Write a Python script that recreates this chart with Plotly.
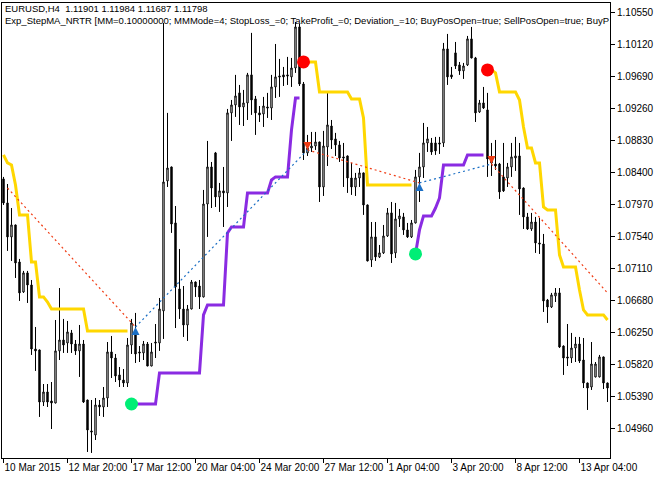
import plotly.graph_objects as go

# ---------------- data ----------------
tick_bars = [0, 16, 32, 48, 64, 80, 96, 112, 128, 144]
tick_labels = ["10 Mar 2015", "12 Mar 20:00", "17 Mar 12:00", "20 Mar 04:00", "24 Mar 20:00",
               "27 Mar 12:00", "1 Apr 04:00", "3 Apr 20:00", "8 Apr 12:00", "13 Apr 04:00"]
price_ticks = [1.10550, 1.10120, 1.09690, 1.09260, 1.08830, 1.08400, 1.07970,
               1.07540, 1.07110, 1.06680, 1.06250, 1.05820, 1.05390, 1.04960]

open_ = [1.08314, 1.07991, 1.07534, 1.07695, 1.07197, 1.06794, 1.07050, 1.06888, 1.06027, 1.06014,
         1.05314, 1.05449, 1.05328, 1.05301, 1.06001, 1.06148, 1.06108, 1.06243, 1.06094, 1.06001,
         1.06094, 1.05341, 1.04925, 1.04871, 1.05274, 1.05247, 1.05368, 1.05987, 1.05906, 1.05678,
         1.05610, 1.05570, 1.06081, 1.06256, 1.05987, 1.05974, 1.06094, 1.05798, 1.06121, 1.06108,
         1.06539, 1.08287, 1.08475, 1.07722, 1.06834, 1.06565, 1.06350, 1.06565, 1.06928, 1.06874,
         1.06727, 1.07977, 1.08475, 1.08664, 1.08072, 1.08153, 1.08126, 1.09202, 1.09309, 1.09471,
         1.09282, 1.09336, 1.09713, 1.09390, 1.09202, 1.09188, 1.09282, 1.09268, 1.09551, 1.09699,
         1.09713, 1.09713, 1.09686, 1.09806, 1.10358, 1.09591, 1.08664, 1.08730, 1.08757, 1.08811,
         1.08206, 1.08744, 1.09026, 1.08852, 1.08771, 1.08610, 1.08623, 1.08327, 1.08206, 1.08327,
         1.08395, 1.07964, 1.07224, 1.07534, 1.07265, 1.07319, 1.07547, 1.07857, 1.07319, 1.07776,
         1.07803, 1.07628, 1.07534, 1.07722, 1.08341, 1.08475, 1.08798, 1.08798, 1.08798, 1.08798,
         1.08798, 1.10062, 1.09713, 1.10009, 1.09847, 1.09767, 1.09847, 1.10197, 1.09941, 1.09215,
         1.09336, 1.09242, 1.08596, 1.08515, 1.08515, 1.08341, 1.08327, 1.08475, 1.08596, 1.08623,
         1.08192, 1.07803, 1.07641, 1.07735, 1.07453, 1.07439, 1.06686, 1.06592, 1.06740, 1.06781,
         1.06067, 1.05920, 1.05906, 1.06040, 1.06094, 1.05879, 1.05570, 1.05516, 1.05651, 1.05651,
         1.05920, 1.05570]

high = [1.08341, 1.08246, 1.07923, 1.07700, 1.07238, 1.07077, 1.07077, 1.06955, 1.06323, 1.06020,
        1.05556, 1.05556, 1.05583, 1.06417, 1.06847, 1.06431, 1.06404, 1.06283, 1.06148, 1.06350,
        1.06148, 1.05345, 1.05341, 1.05368, 1.05341, 1.05516, 1.06121, 1.06202, 1.05960, 1.05785,
        1.05758, 1.06175, 1.06431, 1.06512, 1.06067, 1.06135, 1.06121, 1.06108, 1.06363, 1.06713,
        1.10412, 1.09202, 1.08480, 1.07950, 1.07372, 1.06874, 1.06619, 1.06955, 1.06935, 1.06955,
        1.08166, 1.08825, 1.08542, 1.08677, 1.08260, 1.08475, 1.09255, 1.09376, 1.09713, 1.09578,
        1.09511, 1.09740, 1.10278, 1.09430, 1.09295, 1.09417, 1.09471, 1.09713, 1.10129, 1.09928,
        1.09820, 1.09955, 1.09941, 1.10425, 1.10398, 1.09618, 1.08906, 1.08946, 1.08946, 1.08815,
        1.08960, 1.09471, 1.09107, 1.08933, 1.08825, 1.08798, 1.08630, 1.08529, 1.08395, 1.08461,
        1.08400, 1.07970, 1.07735, 1.07735, 1.07426, 1.07695, 1.07923, 1.08004, 1.07991, 1.07910,
        1.07857, 1.07722, 1.07762, 1.08435, 1.08664, 1.09067, 1.09013, 1.08865, 1.08879, 1.08879,
        1.10143, 1.10264, 1.09820, 1.10156, 1.09887, 1.09874, 1.10237, 1.10358, 1.09955, 1.09376,
        1.09551, 1.09471, 1.08798, 1.08838, 1.08529, 1.08798, 1.08529, 1.08798, 1.08879, 1.08798,
        1.08200, 1.07857, 1.07857, 1.07803, 1.07789, 1.07574, 1.06700, 1.06781, 1.06847, 1.06847,
        1.06075, 1.06363, 1.06243, 1.06189, 1.06189, 1.06175, 1.05575, 1.06121, 1.05852, 1.05947,
        1.05925, 1.05575]

low = [1.07964, 1.07346, 1.07211, 1.06982, 1.06673, 1.06781, 1.06646, 1.05947, 1.05732, 1.05113,
       1.05260, 1.05247, 1.04951, 1.05295, 1.05879, 1.05974, 1.05974, 1.05974, 1.05947, 1.05651,
       1.05301, 1.04642, 1.04629, 1.04803, 1.05126, 1.05113, 1.05247, 1.05637, 1.05583, 1.05516,
       1.05516, 1.05516, 1.05960, 1.05839, 1.05852, 1.05879, 1.05795, 1.05795, 1.05906, 1.06001,
       1.06162, 1.08206, 1.07588, 1.06309, 1.06431, 1.06189, 1.06135, 1.06560, 1.06727, 1.06565,
       1.06720, 1.07534, 1.07923, 1.07937, 1.07870, 1.07668, 1.07937, 1.08825, 1.09148, 1.09040,
       1.09026, 1.09107, 1.09175, 1.08906, 1.09080, 1.09013, 1.09134, 1.09107, 1.09403, 1.09417,
       1.09564, 1.09578, 1.09551, 1.09740, 1.09564, 1.08569, 1.08623, 1.08677, 1.08704, 1.08004,
       1.08085, 1.08488, 1.08717, 1.08623, 1.08542, 1.08206, 1.08126, 1.08099, 1.08085, 1.08206,
       1.07830, 1.07205, 1.07130, 1.07211, 1.07251, 1.07305, 1.07534, 1.07184, 1.07251, 1.07668,
       1.07561, 1.07520, 1.07520, 1.07715, 1.08004, 1.08327, 1.08677, 1.08637, 1.08637, 1.08650,
       1.08744, 1.09578, 1.09659, 1.09793, 1.09713, 1.09659, 1.09833, 1.09935, 1.09080, 1.09202,
       1.09255, 1.08341, 1.08354, 1.08435, 1.08045, 1.08139, 1.08206, 1.08341, 1.08422, 1.07830,
       1.07641, 1.07628, 1.07615, 1.07319, 1.07305, 1.06525, 1.06377, 1.06578, 1.06659, 1.06040,
       1.05678, 1.05798, 1.05839, 1.05852, 1.05839, 1.05502, 1.05207, 1.05476, 1.05645, 1.05645,
       1.05489, 1.05314]

close = [1.07991, 1.07534, 1.07695, 1.07184, 1.06781, 1.07050, 1.06888, 1.06027, 1.06001, 1.05314,
         1.05449, 1.05314, 1.05301, 1.06001, 1.06148, 1.06081, 1.06256, 1.06094, 1.06001, 1.06094,
         1.05314, 1.04938, 1.04911, 1.05274, 1.05247, 1.05368, 1.05987, 1.05906, 1.05664, 1.05610,
         1.05570, 1.06081, 1.06377, 1.05960, 1.05974, 1.06094, 1.05798, 1.05987, 1.06108, 1.06565,
         1.08273, 1.08461, 1.07708, 1.06861, 1.06565, 1.06350, 1.06565, 1.06928, 1.06861, 1.06727,
         1.07977, 1.08475, 1.08192, 1.08072, 1.08153, 1.08126, 1.09202, 1.09309, 1.09430, 1.09282,
         1.09336, 1.09713, 1.09376, 1.09202, 1.09175, 1.09295, 1.09268, 1.09551, 1.09686, 1.09686,
         1.09686, 1.09699, 1.09806, 1.10358, 1.09591, 1.08664, 1.08730, 1.08757, 1.08811, 1.08206,
         1.08757, 1.09040, 1.08838, 1.08771, 1.08596, 1.08596, 1.08327, 1.08206, 1.08327, 1.08395,
         1.07964, 1.07211, 1.07534, 1.07265, 1.07319, 1.07547, 1.07857, 1.07305, 1.07776, 1.07816,
         1.07628, 1.07534, 1.07722, 1.08341, 1.08475, 1.08798, 1.08852, 1.08677, 1.08691, 1.08784,
         1.10062, 1.09686, 1.09686, 1.09833, 1.09767, 1.09833, 1.10197, 1.09941, 1.09202, 1.09336,
         1.09268, 1.08583, 1.08529, 1.08488, 1.08139, 1.08153, 1.08475, 1.08610, 1.08623, 1.08179,
         1.07803, 1.07641, 1.07735, 1.07453, 1.07439, 1.06673, 1.06592, 1.06754, 1.06781, 1.06054,
         1.05906, 1.05906, 1.06040, 1.06094, 1.05866, 1.05570, 1.05502, 1.05825, 1.05825, 1.05920,
         1.05570, 1.05502]

# StepMA NRTR lines: (first bar index, values)
sell_line_1_start = 0
sell_line_1 = [1.08637, 1.08529, 1.08502, 1.08233, 1.07830, 1.07830, 1.07830, 1.07197, 1.07197, 1.06727,
               1.06727, 1.06659, 1.06565, 1.06565, 1.06565, 1.06565, 1.06565, 1.06565, 1.06565, 1.06565,
               1.06565, 1.06270, 1.06270, 1.06270, 1.06270, 1.06270, 1.06270, 1.06270, 1.06270, 1.06270,
               1.06270, 1.06270]
sell_line_2_start = 75
sell_line_2 = [1.09887, 1.09887, 1.09887, 1.09887, 1.09484, 1.09484, 1.09484, 1.09484, 1.09484, 1.09484,
               1.09484, 1.09484, 1.09390, 1.09390, 1.09390, 1.09134, 1.08233, 1.08233, 1.08233, 1.08233,
               1.08233, 1.08233, 1.08233, 1.08233, 1.08233, 1.08233, 1.08233, 1.08233]
sell_line_3_start = 121
sell_line_3 = [1.09780, 1.09780, 1.09740, 1.09484, 1.09484, 1.09484, 1.09484, 1.09484, 1.09376, 1.09013,
               1.08730, 1.08730, 1.08529, 1.08529, 1.07937, 1.07897, 1.07897, 1.07897, 1.07292, 1.07130,
               1.07130, 1.07130, 1.07130, 1.06821, 1.06552, 1.06485, 1.06485, 1.06485, 1.06485, 1.06485,
               1.06417]
buy_line_1_start = 32
buy_line_1 = [1.05287, 1.05287, 1.05287, 1.05287, 1.05287, 1.05287, 1.05287,
              1.05705, 1.05705, 1.05705, 1.05705, 1.05705, 1.05705, 1.05705, 1.05705, 1.05705, 1.05705,
              1.05705, 1.06485, 1.06619, 1.06619, 1.06619, 1.06619, 1.06619, 1.07588,
              1.07668, 1.07668, 1.07668, 1.07668, 1.08126, 1.08126, 1.08126, 1.08126, 1.08126, 1.08126,
              1.08300, 1.08341, 1.08341, 1.08341, 1.08341, 1.08973, 1.09403, 1.09403]
buy_line_2_start = 103
buy_line_2 = [1.07305, 1.07628, 1.07816, 1.07816, 1.07816, 1.07923, 1.08058,
              1.08502, 1.08502, 1.08502, 1.08502, 1.08502, 1.08502,
              1.08637, 1.08637, 1.08637, 1.08637, 1.08637]

# signal dots
sell_signal_bars = [75, 121]
sell_signal_prices = [1.09887, 1.09780]
buy_signal_bars = [32, 103]
buy_signal_prices = [1.05287, 1.07305]

# deals (connected by dotted lines)
deal_bars = [1, 33, 76, 104, 122, 151]
deal_prices = [1.08192, 1.06323, 1.08704, 1.08260, 1.08515, 1.06781]
deal_kinds = ["sell", "buy", "sell", "buy", "sell"]
buy_deal_bars = [33, 104]
buy_deal_prices = [1.06323, 1.08260]
sell_deal_bars = [76, 122]
sell_deal_prices = [1.08704, 1.08515]

header_1 = "EURUSD,H4&nbsp; 1.11901 1.11984 1.11687 1.11798"
header_2 = ("Exp_StepMA_NRTR [MM=0.10000000; MMMode=4; StopLoss_=0; TakeProfit_=0; "
            "Deviation_=10; BuyPosOpen=true; SellPosOpen=true; BuyP")

for name, arr in [("open", open_), ("high", high), ("low", low), ("close", close)]:
    if len(arr) != 152:
        raise SystemExit(f"{name} has {len(arr)}")

# ---------------- figure ----------------
FONT = "Liberation Sans, Arial, sans-serif"
bars = list(range(len(close)))

fig = go.Figure()
fig.add_trace(go.Candlestick(
    x=bars, open=open_, high=high, low=low, close=close,
    increasing=dict(line=dict(color="black", width=1), fillcolor="white"),
    decreasing=dict(line=dict(color="black", width=1), fillcolor="black"),
    whiskerwidth=0, hoverinfo="skip", showlegend=False,
))

def seg(start, vals):
    return list(range(start, start + len(vals))), vals

for start, vals in [(sell_line_1_start, sell_line_1), (sell_line_2_start, sell_line_2),
                    (sell_line_3_start, sell_line_3)]:
    xs, ys = seg(start, vals)
    fig.add_trace(go.Scatter(x=xs, y=ys, mode="lines",
                             line=dict(color="#FFD700", width=3), showlegend=False))
for start, vals in [(buy_line_1_start, buy_line_1), (buy_line_2_start, buy_line_2)]:
    xs, ys = seg(start, vals)
    fig.add_trace(go.Scatter(x=xs, y=ys, mode="lines",
                             line=dict(color="#8A2BE2", width=3), showlegend=False))

for i, kind in enumerate(deal_kinds):
    col = "#F03C14" if kind == "sell" else "#1A6EC4"
    fig.add_trace(go.Scatter(x=deal_bars[i:i + 2], y=deal_prices[i:i + 2], mode="lines",
                             line=dict(color=col, width=1.2, dash="2px,3px"), showlegend=False))

fig.add_trace(go.Scatter(x=buy_deal_bars, y=buy_deal_prices, mode="markers",
                         marker=dict(symbol="arrow-up", size=8, color="#1A6EC4"), showlegend=False))
fig.add_trace(go.Scatter(x=sell_deal_bars, y=sell_deal_prices, mode="markers",
                         marker=dict(symbol="arrow-down", size=8, color="#F03C14"), showlegend=False))

fig.add_trace(go.Scatter(x=sell_signal_bars, y=sell_signal_prices, mode="markers",
                         marker=dict(size=13, color="#FF0000"), showlegend=False))
fig.add_trace(go.Scatter(x=buy_signal_bars, y=buy_signal_prices, mode="markers",
                         marker=dict(size=13, color="#00EE76"), showlegend=False))

fig.add_annotation(xref="paper", yref="paper", x=0.002, y=0.988, xanchor="left", yanchor="middle",
                   text=header_1, showarrow=False, font=dict(family=FONT, size=9.5, color="black"))
fig.add_annotation(xref="paper", yref="paper", x=0.002, y=0.9615, xanchor="left", yanchor="middle",
                   text=header_2, showarrow=False, font=dict(family=FONT, size=9.5, color="black"))

fig.update_layout(
    width=662, height=479,
    margin=dict(l=2, r=52, t=3, b=21, autoexpand=False),
    paper_bgcolor="white", plot_bgcolor="white",
    showlegend=False, boxgap=0.5,
    font=dict(family=FONT, size=10, color="black"),
    xaxis=dict(range=[-0.375, 151.625], showgrid=False, zeroline=False, automargin=False,
               showline=True, linecolor="black", linewidth=1, mirror=True,
               ticks="outside", ticklen=4, tickcolor="black", tickangle=0,
               tickvals=tick_bars, ticktext=tick_labels,
               ticklabelposition="outside right",
               tickfont=dict(family=FONT, size=10, color="black"),
               rangeslider=dict(visible=False)),
    yaxis=dict(range=[1.04561, 1.10680], side="right", showgrid=False, zeroline=False,
               automargin=False,
               showline=True, linecolor="black", linewidth=1, mirror=True,
               ticks="outside", ticklen=4, tickcolor="black",
               tickvals=price_ticks, ticktext=[f"{v:.5f}" for v in price_ticks],
               tickfont=dict(family=FONT, size=10, color="black")),
)

fig.write_html("out.html", config={"displayModeBar": False},
               post_script="document.body.style.margin='0px';")
